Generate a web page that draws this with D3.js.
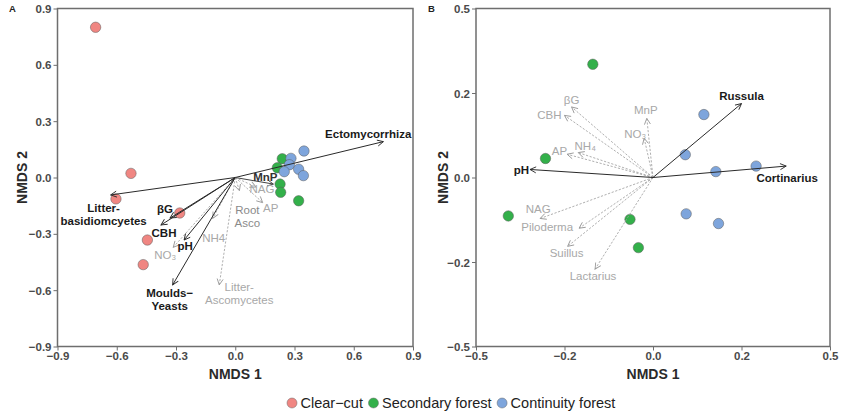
<!DOCTYPE html>
<html>
<head>
<meta charset="utf-8">
<script src="https://cdn.jsdelivr.net/npm/d3@7/dist/d3.min.js"></script>
<style>
  html, body { margin: 0; padding: 0; background: #fff; }
  svg { display: block; font-family: "Liberation Sans", Arial, sans-serif; }
</style>
</head>
<body>
<svg id="chart" width="841" height="414"></svg>
<script>
// ---- Groups ----
const groupNames = ["Clear−cut", "Secondary forest", "Continuity forest"];
const groupColors = ["#f08682", "#33b04a", "#7ea5dc"];

// ---- Panel A: site scores (NMDS 1, NMDS 2) ----
const clearCutA = [[-0.707, 0.80], [-0.528, 0.022], [-0.604, -0.114], [-0.281, -0.189], [-0.445, -0.333], [-0.466, -0.464]];
const secondaryA = [[0.238, 0.100], [0.213, 0.052], [0.227, -0.035], [0.230, -0.079], [0.321, -0.124]];
const continuityA = [[0.348, 0.141], [0.282, 0.102], [0.274, 0.068], [0.248, 0.031], [0.321, 0.044], [0.345, 0.010]];

// ---- Panel A: fitted vectors ----
const vectorNamesA = ["Ectomycorrhiza", "Litter-basidiomcyetes", "βG", "CBH", "pH", "Moulds−Yeasts", "MnP",
                      "NAG", "AP", "Root Asco", "NH4", "NO₃", "Litter-Ascomycetes"];
const vectorXA = [0.750, -0.631, -0.330, -0.376, -0.259, -0.317, 0.193, 0.105, 0.139, 0.021, -0.114, -0.314, -0.081];
const vectorYA = [0.191, -0.093, -0.216, -0.253, -0.333, -0.572, -0.035, -0.051, -0.134, -0.070, -0.217, -0.372, -0.572];
const vectorSigA = ["sig", "sig", "sig", "sig", "sig", "sig", "mid", "ns", "ns", "ns", "ns", "ns", "ns"];

// ---- Panel B: site scores ----
const secondaryB = [[-0.136, 0.268], [-0.243, 0.045], [-0.327, -0.091], [-0.052, -0.099], [-0.033, -0.166]];
const continuityB = [[0.115, 0.149], [0.073, 0.054], [0.142, 0.014], [0.233, 0.027], [0.075, -0.086], [0.148, -0.109]];

// ---- Panel B: fitted vectors ----
const vectorNamesB = ["Russula", "Cortinarius", "pH", "βG", "CBH", "MnP", "NO₃", "NH₄", "AP", "NAG", "Piloderma", "Suillus", "Lactarius"];
const vectorXB = [0.200, 0.301, -0.278, -0.184, -0.200, -0.014, -0.020, -0.169, -0.194, -0.255, -0.167, -0.193, -0.131];
const vectorYB = [0.175, 0.027, 0.019, 0.167, 0.147, 0.140, 0.093, 0.059, 0.055, -0.097, -0.120, -0.163, -0.217];
const vectorSigB = ["sig", "sig", "sig", "ns", "ns", "ns", "ns", "ns", "ns", "ns", "ns", "ns", "ns"];

// ---- Axis ticks ----
const ticksA = [-0.9, -0.6, -0.3, 0, 0.3, 0.6, 0.9];
const tickLabelsA = ["−0.9", "−0.6", "−0.3", "0.0", "0.3", "0.6", "0.9"];
const ticksB = [-0.4, -0.2, 0, 0.2, 0.4];
const tickLabelsB = ["−0.5", "−0.2", "0.0", "0.2", "0.5"];

// ---- Label placement (pixel offsets from the arrow tip) ----
const labelPosA = {
  "Ectomycorrhiza": {dx: 28, dy: -4, anchor: "end", lines: ["Ectomycorrhiza"]},
  "Litter-basidiomcyetes": {dx: -7, dy: 17, anchor: "middle", lines: ["Litter-", "basidiomcyetes"]},
  "βG": {dx: -5, dy: -5, anchor: "middle", lines: ["βG"]},
  "CBH": {dx: 3, dy: 12, anchor: "middle", lines: ["CBH"]},
  "pH": {dx: 1, dy: 10, anchor: "middle", lines: ["pH"]},
  "Moulds−Yeasts": {dx: -3, dy: 12, anchor: "middle", lines: ["Moulds−", "Yeasts"]},
  "MnP": {dx: -8, dy: -3, anchor: "middle", lines: ["MnP"]},
  "NAG": {dx: 6, dy: 6, anchor: "middle", lines: ["NAG"]},
  "AP": {dx: 8, dy: 9, anchor: "middle", lines: ["AP"]},
  "Root Asco": {dx: 8, dy: 23, anchor: "middle", lines: ["Root", "Asco"]},
  "NH4": {dx: 1, dy: 24, anchor: "middle", lines: ["NH4"]},
  "NO₃": {dx: -8, dy: 12, anchor: "middle", lines: ["NO₃"]},
  "Litter-Ascomycetes": {dx: 20, dy: 6, anchor: "middle", lines: ["Litter-", "Ascomycetes"]}
};
const labelPosB = {
  "Russula": {dx: 0, dy: -4, anchor: "middle"},
  "Cortinarius": {dx: 1, dy: 16, anchor: "middle"},
  "pH": {dx: -1, dy: 5, anchor: "end"},
  "βG": {dx: 0, dy: -3, anchor: "middle"},
  "CBH": {dx: -3, dy: 4, anchor: "end"},
  "MnP": {dx: -1, dy: -4, anchor: "middle"},
  "NO₃": {dx: 2, dy: 0, anchor: "end"},
  "NH₄": {dx: 7, dy: -3, anchor: "middle"},
  "AP": {dx: 0, dy: 1, anchor: "end"},
  "NAG": {dx: -2, dy: -5, anchor: "middle"},
  "Piloderma": {dx: -6, dy: 3, anchor: "end"},
  "Suillus": {dx: -1, dy: 11, anchor: "middle"},
  "Lactarius": {dx: -2, dy: 11, anchor: "middle"}
};

const svg = d3.select("#chart");

// Open arrowheads, one per line colour
const defs = svg.append("defs");
function addMarker(id, color) {
  defs.append("marker")
    .attr("id", id)
    .attr("viewBox", "-1 -4 8 8")
    .attr("refX", 6).attr("refY", 0)
    .attr("markerWidth", 8).attr("markerHeight", 8)
    .attr("markerUnits", "userSpaceOnUse")
    .attr("orient", "auto")
    .append("path")
    .attr("d", "M0,-3L6,0L0,3")
    .attr("fill", "none")
    .attr("stroke", color)
    .attr("stroke-width", 0.9);
}
const styleBySig = {
  sig: {stroke: "#2a2a2a", dash: null, width: 1, marker: "arrSig", text: "#1a1a1a", weight: "bold"},
  mid: {stroke: "#444", dash: null, width: 1, marker: "arrMid", text: "#333", weight: "bold"},
  ns:  {stroke: "#9a9a9a", dash: "2.2,1.6", width: 0.8, marker: "arrNs", text: "#a8a8a8", weight: "normal"}
};
addMarker("arrSig", "#2a2a2a");
addMarker("arrMid", "#444");
addMarker("arrNs", "#9a9a9a");

function drawPanel(cfg) {
  const x = d3.scaleLinear().domain(cfg.domain).range([cfg.left, cfg.right]);
  const y = d3.scaleLinear().domain(cfg.domain).range([cfg.bottom, cfg.top]);
  const g = svg.append("g");

  // Frame
  g.append("rect")
    .attr("x", cfg.left).attr("y", cfg.top)
    .attr("width", cfg.right - cfg.left).attr("height", cfg.bottom - cfg.top)
    .attr("fill", "none").attr("stroke", "#6e6e6e").attr("stroke-width", 1.5);

  // Axes
  const xAxis = d3.axisBottom(x).tickValues(cfg.ticks)
    .tickFormat((d, i) => cfg.tickLabels[i]).tickSize(4).tickPadding(1);
  const yAxis = d3.axisLeft(y).tickValues(cfg.ticks)
    .tickFormat((d, i) => cfg.tickLabels[i]).tickSize(4).tickPadding(2);
  const gx = g.append("g").attr("transform", `translate(0,${cfg.bottom})`).call(xAxis);
  const gy = g.append("g").attr("transform", `translate(${cfg.left},0)`).call(yAxis);
  [gx, gy].forEach(ax => {
    ax.select(".domain").remove();
    ax.selectAll(".tick line").attr("stroke", "#6e6e6e").attr("stroke-width", 1);
    ax.selectAll(".tick text")
      .attr("fill", "#4a4a4a").attr("font-size", 11.5).attr("font-weight", "bold")
      .attr("font-family", "Liberation Sans, Arial, sans-serif");
  });
  gy.selectAll(".tick text").attr("dy", "0.36em");

  // Axis titles
  g.append("text")
    .attr("x", (cfg.left + cfg.right) / 2).attr("y", cfg.bottom + 32)
    .attr("text-anchor", "middle").attr("font-size", 14).attr("font-weight", "bold")
    .attr("fill", "#2a2a2a").text("NMDS 1");
  g.append("text")
    .attr("transform", `translate(${cfg.yTitleX},${(cfg.top + cfg.bottom) / 2}) rotate(-90)`)
    .attr("text-anchor", "middle").attr("dy", "0.35em")
    .attr("font-size", 14).attr("font-weight", "bold")
    .attr("fill", "#2a2a2a").text("NMDS 2");

  // Panel letter
  g.append("text")
    .attr("x", cfg.letterX).attr("y", 12)
    .attr("font-size", 9.5).attr("font-weight", "bold").attr("fill", "#222")
    .text(cfg.letter);

  // Site points
  cfg.sites.forEach(s => {
    g.append("g").selectAll("circle").data(s.points).join("circle")
      .attr("cx", d => x(d[0])).attr("cy", d => y(d[1]))
      .attr("r", 5.2)
      .attr("fill", groupColors[s.group])
      .attr("stroke", "#5a5a5a").attr("stroke-width", 0.5);
  });

  // Vectors
  const vecs = cfg.names.map((n, i) => ({name: n, vx: cfg.vx[i], vy: cfg.vy[i], sig: cfg.sig[i]}));
  // dashed first, solid on top
  const ordered = vecs.filter(v => v.sig === "ns").concat(vecs.filter(v => v.sig !== "ns"));
  g.append("g").selectAll("line").data(ordered).join("line")
    .attr("x1", x(0)).attr("y1", y(0))
    .attr("x2", d => x(d.vx)).attr("y2", d => y(d.vy))
    .attr("stroke", d => styleBySig[d.sig].stroke)
    .attr("stroke-width", d => styleBySig[d.sig].width)
    .attr("stroke-dasharray", d => styleBySig[d.sig].dash)
    .attr("marker-end", d => `url(#${styleBySig[d.sig].marker})`);

  // Vector labels
  vecs.forEach(v => {
    const p = cfg.labelPos[v.name];
    const st = styleBySig[v.sig];
    const lines = p.lines || [v.name];
    const t = g.append("text")
      .attr("text-anchor", p.anchor)
      .attr("font-size", 11.5)
      .attr("font-weight", st.weight)
      .attr("fill", v.name === "Root Asco" ? "#8a8a8a" : st.text);
    lines.forEach((ln, k) => {
      t.append("tspan")
        .attr("x", x(v.vx) + p.dx)
        .attr("y", y(v.vy) + p.dy + k * 13.5)
        .text(ln);
    });
  });
}

drawPanel({
  letter: "A", letterX: 9,
  domain: [-0.9, 0.9], left: 57.5, right: 413, top: 8.5, bottom: 346.5,
  ticks: ticksA, tickLabels: tickLabelsA, yTitleX: 22,
  sites: [{group: 0, points: clearCutA}, {group: 1, points: secondaryA}, {group: 2, points: continuityA}],
  names: vectorNamesA, vx: vectorXA, vy: vectorYA, sig: vectorSigA, labelPos: labelPosA
});

drawPanel({
  letter: "B", letterX: 428,
  domain: [-0.4, 0.4], left: 476, right: 830, top: 8.5, bottom: 346.5,
  ticks: ticksB, tickLabels: tickLabelsB, yTitleX: 443,
  sites: [{group: 1, points: secondaryB}, {group: 2, points: continuityB}],
  names: vectorNamesB, vx: vectorXB, vy: vectorYB, sig: vectorSigB, labelPos: labelPosB
});

// Legend
const legend = svg.append("g").attr("font-size", 14.5).attr("fill", "#222");
let lx = 287;
groupNames.forEach((name, i) => {
  legend.append("circle")
    .attr("cx", lx + 5).attr("cy", 403).attr("r", 5)
    .attr("fill", groupColors[i]).attr("stroke", "#6a6a6a").attr("stroke-width", 0.5);
  const t = legend.append("text").attr("x", lx + 13.5).attr("y", 408).text(name);
  lx += 13.5 + t.node().getComputedTextLength() + 5.5;
});
</script>
</body>
</html>
